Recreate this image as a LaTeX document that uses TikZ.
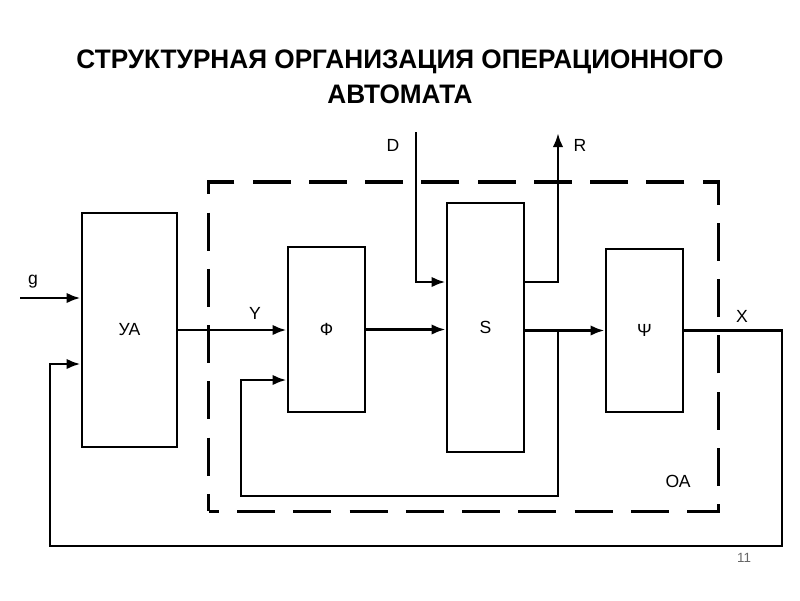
\documentclass[tikz,border=0pt]{standalone}
\usepackage{fontspec}
\setmainfont{Liberation Sans}
\usetikzlibrary{arrows.meta}
\tikzset{
  blk/.style={draw, line width=2pt, inner sep=0pt, minimum width=1.925cm},
  wire/.style={line width=2pt},
  arr/.style={wire, -{Latex[length=10pt,width=7.5pt]}},
  oabox/.style={draw, line width=2.2pt, dash pattern=on 27pt off 13pt, dash phase=20pt, inner sep=0pt},
  lbl/.style={inner sep=0pt},
}
\begin{document}
\begin{tikzpicture}[x=0.025cm, y=-0.025cm, font=\fontsize{12.5}{15}\selectfont]
        \useasboundingbox (0,0) rectangle (800,600);
        % title
        \node [align=center, font=\bfseries\fontsize{19}{25}\selectfont, xscale=0.98] (title) at (400,77)
              {СТРУКТУРНАЯ ОРГАНИЗАЦИЯ ОПЕРАЦИОННОГО\\АВТОМАТА};
        % operational automaton frame
        \node [oabox, minimum width=12.725cm, minimum height=8.225cm] (oa) at (463.5,346.5) {};
        % blocks
        \node [blk, minimum width=2.375cm, minimum height=5.85cm] (ua) at (129.5,330) {УА};
        \node [blk, minimum height=4.125cm] (fi) at (326.5,329.5) {Ф};
        \node [blk, minimum height=6.225cm] (s) at (485.5,327.5) {S};
        \node [blk, minimum height=4.075cm] (psi) at (644.5,330.5) {Ψ};
        % free ends
        \coordinate (gin) at (20,298);
        \coordinate (din) at (416,132);
        \coordinate (rout) at (558,133);
        \coordinate (tap) at (558,330);
        % connectors
        \draw [arr] (gin) -- (gin -| ua.west);
        \draw [arr] (ua.east) -- (ua.east -| fi.west);
        \draw [arr] (fi.east) -- (fi.east -| s.west);
        \draw [arr] (s.east |- psi.west) -- (psi.west);
        \draw [arr] (din) |- (s.west |- 0,282);
        \draw [arr] (s.east |- 0,282) -| (rout);
        \draw [arr] (tap) |- (241,496) |- (fi.west |- 0,380);
        \draw [arr] (psi.east) -| (782,546) -| (50,364) -- (ua.west |- 0,364);
        % labels
        \node [lbl] (glab) at (33,282) {g};
        \node [lbl] (ylab) at (255,313) {Y};
        \node [lbl] (xlab) at (742,316) {X};
        \node [lbl] (dlab) at (393,145) {D};
        \node [lbl] (rlab) at (580,145) {R};
        \node [lbl] (oalab) at (678,481) {ОА};
        \node [lbl, text=black!60, font=\fontsize{9.5}{11}\selectfont] (page) at (744,558) {11};
\end{tikzpicture}
\end{document}
